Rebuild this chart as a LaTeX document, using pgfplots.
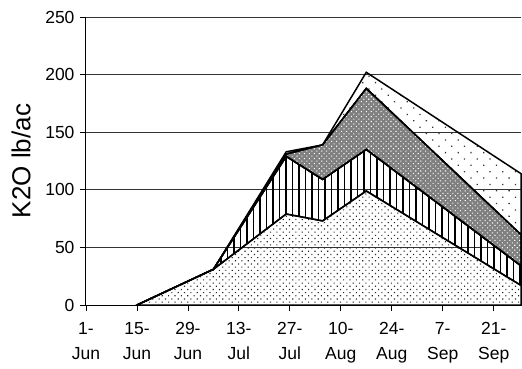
\documentclass[border=0pt]{standalone}
\usepackage{fontspec}
\setmainfont{Liberation Sans}
\usepackage{pgfplots}
\usepackage{pgfplotstable}
\pgfplotsset{compat=1.18}
\usetikzlibrary{patterns.meta}

\pgfplotstableread{
x     a   b   c   d
14    0   0   0   0
35    31  0   0   0
55    79  50  2   2
65    73  36  30  0
77    99  36  53  14
119.5 17  17  27  53
}\datatable

\begin{document}
\begin{tikzpicture}
\begin{axis}[
  at={(0,0)}, anchor=south west,
  scale only axis, width=435bp, height=288bp,
  xmin=0, xmax=119.5, ymin=0, ymax=250,
  axis lines=left,
  axis line style={-, black, line width=1bp},
  ytick={0,50,...,250},
  xtick={0,14,...,112},
  xticklabels={1-\\Jun,15-\\Jun,29-\\Jun,13-\\Jul,27-\\Jul,10-\\Aug,24-\\Aug,7-\\Sep,21-\\Sep},
  ymajorgrids, grid style={black!80, line width=0.8bp},
  tick style={black, line width=0.8bp},
  tick align=outside, major tick length=6bp,
  /pgf/number format/assume math mode=true,
  ticklabel style={font=\fontsize{17.5bp}{25bp}\selectfont},
  xticklabel style={align=center, yshift=-8bp},
  yticklabel style={xshift=-2bp},
  ylabel={K2O lb/ac},
  ylabel style={font=\fontsize{26bp}{30bp}\selectfont, at={(axis description cs:-0.1494,0.5)}, anchor=center, rotate=0},
  stack plots=y,
  clip=false,
]
\addplot[draw=black, line width=1.5bp, pattern={Dots[distance=4.5bp, radius=0.8bp, angle=45]}, pattern color=black!85]
  table[x=x,y=a] {\datatable} \closedcycle;
\addplot[draw=black, line width=1.5bp, pattern={Lines[angle=90, distance=6.5bp, line width=1.3bp]}, pattern color=black]
  table[x=x,y=b] {\datatable} \closedcycle;
\addplot[draw=black, line width=1.5bp, fill=black!50, postaction={pattern={Dots[distance=3.5bp, radius=0.75bp, angle=45]}, pattern color=white}]
  table[x=x,y=c] {\datatable} \closedcycle;
\addplot[draw=black, line width=1.5bp, pattern={Dots[distance=9bp, radius=0.9bp, angle=45]}, pattern color=black!80]
  table[x=x,y=d] {\datatable} \closedcycle;
\end{axis}
\pgfresetboundingbox
\path[use as bounding box] (-86bp,-64bp) rectangle (436bp,305bp);
\end{tikzpicture}
\end{document}
